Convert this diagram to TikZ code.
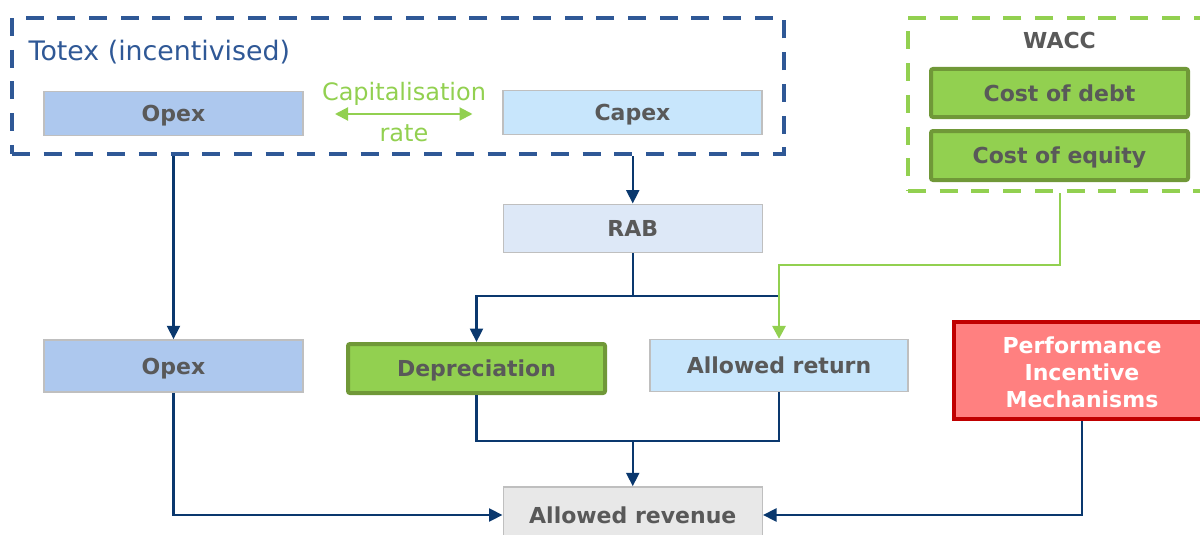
\documentclass[tikz,border=0pt]{standalone}
\usepackage{fontspec}
\setmainfont{DejaVu Sans}
\usetikzlibrary{arrows.meta}

\definecolor{totexblue}{RGB}{47,88,150}
\definecolor{navy}{RGB}{10,56,110}
\definecolor{leaf}{RGB}{146,208,80}
\definecolor{leafdark}{RGB}{112,152,56}
\definecolor{labelgray}{RGB}{89,89,89}
\definecolor{boxgray}{RGB}{191,191,191}
\definecolor{opexfill}{RGB}{173,200,238}
\definecolor{capexfill}{RGB}{200,230,252}
\definecolor{rabfill}{RGB}{221,232,247}
\definecolor{revfill}{RGB}{232,232,232}
\definecolor{pimfill}{RGB}{255,128,128}
\definecolor{pimdark}{RGB}{192,0,0}

\tikzset{
  boldlabel/.style={font=\fontsize{22}{27}\selectfont\bfseries},
  box/.style={draw=boxgray, line width=1.5pt, text=labelgray, boldlabel,
    inner sep=0pt, text height=16pt, text depth=0pt},
  greenbox/.style={box, fill=leaf, draw=leafdark, line width=4pt, rounded corners=2pt},
  framebox/.style={line width=4pt, dash pattern=on 18pt off 13.7pt, inner sep=0pt},
  conn/.style={draw=navy, line width=2.3pt},
  tip/.style={-{Triangle[length=13.5pt,width=13pt]}},
  greenconn/.style={draw=leaf, line width=2pt},
  greentip/.style={-{Triangle[length=13pt,width=13.5pt]}}
}

\begin{document}
\begin{tikzpicture}[x=1pt,y=-1pt]
\useasboundingbox (0,0) rectangle (1200,535);
\clip (0,0) rectangle (1200,535);

% Totex frame and its contents
\node[framebox, draw=totexblue, minimum width=772pt, minimum height=136pt] (totex) at (398,86) {};
\node[anchor=base west, inner sep=0pt, text=totexblue, font=\fontsize{26.8}{31}\selectfont] (totexlbl) at (28.5,60) {Totex (incentivised)};
\node[box, fill=opexfill, minimum width=259pt, minimum height=44pt] (opextop) at (173.5,113.5) {Opex};
\node[box, fill=capexfill, minimum width=259pt, minimum height=44pt] (capex) at (632.5,112.5) {Capex};

% capitalisation rate link
\coordinate (capl) at (335,114);
\coordinate (capr) at (472.5,114);
\draw[greenconn, {Triangle[length=13pt,width=13pt]}-{Triangle[length=13pt,width=13pt]}] (capl) -- (capr);
\node[anchor=base, inner sep=0pt, text=leaf, font=\fontsize{24}{28}\selectfont] (caplbl) at (404,100) {Capitalisation};
\node[anchor=base, inner sep=0pt, text=leaf, font=\fontsize{24}{28}\selectfont] (ratelbl) at (404,141.5) {rate};

% WACC frame
\node[framebox, draw=leaf, minimum width=303pt, minimum height=173pt] (wacc) at (1059.5,104.5) {};
\node[anchor=base, inner sep=0pt, text=labelgray, boldlabel] (wacclbl) at (1059.5,48.3) {WACC};
\node[greenbox, minimum width=257pt, minimum height=48pt] (debt) at (1059.5,93) {Cost of debt};
\node[greenbox, minimum width=257pt, minimum height=49pt] (equity) at (1059.5,155.5) {Cost of equity};

% middle and lower rows
\node[box, fill=rabfill, minimum width=259pt, minimum height=48pt] (rab) at (632.75,228.25) {RAB};
\node[box, fill=opexfill, minimum width=259pt, minimum height=52pt] (opexlow) at (173.5,366) {Opex};
\node[greenbox, minimum width=257pt, minimum height=49pt] (dep) at (476.5,368.5) {Depreciation};
\node[box, fill=capexfill, minimum width=258pt, minimum height=52pt] (ret) at (779,365.5) {Allowed return};
\node[draw=pimdark, fill=pimfill, line width=4.5pt, text=white, boldlabel, align=center,
      inner sep=0pt, minimum width=256pt, minimum height=97pt] (pim) at (1082,370.5) {};
\node[text=white, boldlabel, align=center, inner sep=0pt] (pimtext) at (1082,372.5)
      {Performance\\Incentive\\Mechanisms};
\node[box, fill=revfill, minimum width=259pt, minimum height=56pt] (rev) at (632.75,515) {Allowed revenue};

% connectors
\coordinate (split) at (632.75,296);
\coordinate (retjoin) at (779,296);
\coordinate (gturn) at (1059.5,265);
\coordinate (merge) at (632.75,441);

\draw[conn, tip] (opextop.south |- totex.south) -- (opexlow.north);
\draw[conn, tip] (rab.north |- totex.south) -- (rab.north);
\draw[conn, tip] (rab.south) -- (split) -| (dep.north);
\draw[conn] (split) -- (retjoin);
\draw[greenconn, greentip] (wacc.south) -- (gturn) -| (ret.north);
\draw[conn] (dep.south) |- (ret.south |- merge) -- (ret.south);
\draw[conn, tip] (merge) -- (rev.north);
\draw[conn, tip] (opexlow.south) |- (rev.west);
\draw[conn, tip] (pim.south) |- (rev.east);
\end{tikzpicture}
\end{document}
